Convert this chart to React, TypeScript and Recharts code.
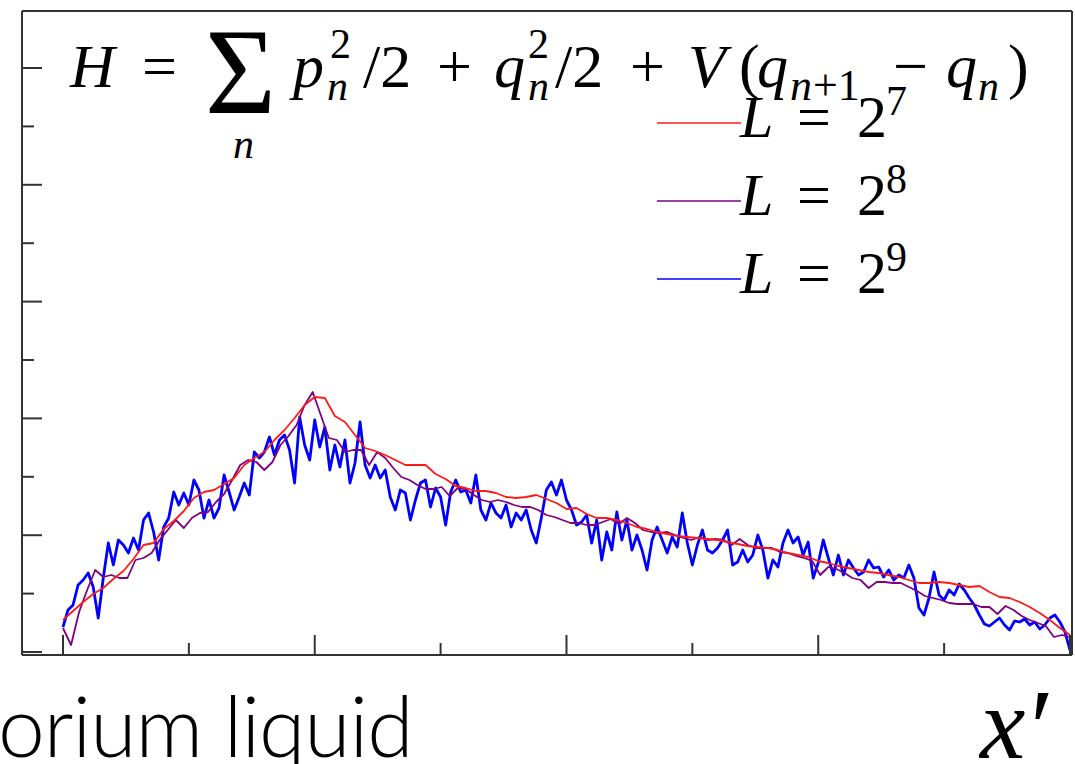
import { LineChart, Line, XAxis, YAxis, Legend } from "recharts";

// x' ticks (unlabelled) and y ticks (unlabelled, tick spacing of the original frame)
const X_TICKS = [0, 0.125, 0.25, 0.375, 0.5, 0.625, 0.75, 0.875, 1];
const Y_TICKS = [0, 58.4, 116.8, 175.2, 233.6, 292, 350.4, 408.8, 467.2, 525.6, 584];

// L = 2^7, evenly spaced in x' from 0 to 1
const L7 = [
  32, 41, 50, 58, 64, 73, 81, 93, 107, 109, 123, 131, 141, 154, 160, 162, 168, 174, 187, 194,
  200, 212, 222, 234, 247, 255, 254, 236, 230, 217, 204, 201, 197, 192, 187, 187, 187, 178, 173, 166,
  164, 161, 161, 159, 155, 154, 155, 157, 153, 149, 143, 144, 138, 134, 134, 132, 129, 125, 123, 120,
  118, 116, 115, 114, 113, 112, 110, 108, 106, 105, 104, 102, 99, 97, 95, 91, 89, 86, 84, 82,
  80, 79, 77, 75, 72, 69, 69, 70, 69, 67, 65, 66, 60, 55, 54, 50, 45, 39, 32, 24,
  17,
];

// L = 2^8
const L8 = [
  24, 7, 40, 62, 82, 75, 77, 74, 74, 92, 94, 99, 112, 122, 132, 124, 134, 139, 140, 150,
  158, 172, 187, 192, 190, 182, 190, 207, 216, 227, 247, 260, 237, 214, 212, 200, 202, 202, 187, 200,
  194, 184, 175, 172, 167, 163, 163, 165, 156, 164, 163, 157, 152, 150, 152, 150, 147, 145, 145, 142,
  137, 135, 132, 129, 129, 127, 127, 130, 133, 128, 134, 129, 122, 120, 119, 120, 117, 114, 112, 115,
  112, 113, 112, 107, 113, 107, 104, 104, 104, 100, 99, 96, 94, 91, 77, 85, 83, 79, 74, 72,
  64, 70, 70, 69, 69, 65, 61, 56, 54, 52, 49, 48, 48, 48, 45, 45, 38, 46, 42, 36,
  32, 29, 26, 15, 17, 15,
];

// L = 2^9
const L9 = [
  25, 42, 47, 67, 72, 79, 65, 34, 74, 109, 87, 112, 107, 99, 114, 102, 132, 139, 120, 92,
  125, 134, 160, 147, 159, 147, 172, 162, 134, 152, 134, 144, 177, 160, 142, 155, 169, 157, 200, 194,
  200, 215, 197, 212, 217, 202, 169, 235, 207, 192, 232, 205, 225, 182, 207, 185, 212, 169, 189, 230,
  187, 174, 187, 174, 182, 155, 142, 162, 159, 132, 152, 169, 172, 145, 164, 155, 127, 160, 172, 160,
  162, 149, 177, 142, 132, 149, 139, 134, 147, 125, 139, 132, 142, 122, 109, 134, 162, 170, 157, 172,
  152, 142, 127, 130, 137, 109, 132, 92, 120, 102, 140, 112, 132, 102, 117, 102, 82, 112, 125, 112,
  99, 115, 105, 139, 109, 87, 107, 122, 102, 99, 104, 112, 122, 87, 90, 102, 90, 97, 117, 102,
  74, 92, 85, 109, 122, 109, 115, 97, 110, 74, 89, 112, 94, 77, 97, 77, 92, 84, 77, 80,
  92, 84, 85, 75, 82, 72, 77, 74, 87, 74, 44, 37, 54, 80, 57, 52, 62, 57, 68, 62,
  54, 47, 37, 28, 26, 30, 34, 27, 22, 31, 30, 33, 27, 30, 23, 27, 34, 37, 30, 20,
  2,
];

const SERIES = [
  { key: "L7", exp: "7", values: L7, color: "#ff1a1a", width: 1.8 },
  { key: "L8", exp: "8", values: L8, color: "#800080", width: 1.8 },
  { key: "L9", exp: "9", values: L9, color: "#0000ff", width: 2.8 },
];

const toPoints = (values: number[]) =>
  values.map((y, i) => ({ x: i / (values.length - 1), y }));

const AXIS = "#333";
const MATH = "Liberation Serif";
const xLen = (v: number) => (X_TICKS.indexOf(v) % 2 === 0 ? 20 : 12);
const yLen = (v: number) => (Y_TICKS.indexOf(v) % 2 === 0 ? 20 : 12);

function BottomTick(props: any) {
  const { x, y, payload } = props;
  return <line x1={x} x2={x} y1={y} y2={y - xLen(payload.value)} stroke={AXIS} strokeWidth={2} />;
}
function TopTick(props: any) {
  const { x, y, payload } = props;
  return <line x1={x} x2={x} y1={y} y2={y + xLen(payload.value)} stroke={AXIS} strokeWidth={2} />;
}
function LeftTick(props: any) {
  const { x, y, payload } = props;
  return <line x1={x} x2={x + yLen(payload.value)} y1={y} y2={y} stroke={AXIS} strokeWidth={2} />;
}
function RightTick(props: any) {
  const { x, y, payload } = props;
  return <line x1={x} x2={x - yLen(payload.value)} y1={y} y2={y} stroke={AXIS} strokeWidth={2} />;
}

function LegendBox() {
  return (
    <svg width={1075} height={320} style={{ display: "block" }}>
      {SERIES.map((s, i) => {
        const ly = 123 + i * 78;
        const by = 137 + i * 78;
        return (
          <g key={s.key}>
            <line x1={657} x2={741} y1={ly} y2={ly} stroke={s.color} strokeWidth={1.6} />
            <text x={740} y={by} fontSize={60} fontFamily={MATH} fontStyle="italic">L</text>
            <text x={797} y={by} fontSize={60} fontFamily={MATH}>=</text>
            <text x={857} y={by} fontSize={60} fontFamily={MATH}>2</text>
            <text x={886} y={by - 22} fontSize={42} fontFamily={MATH}>{s.exp}</text>
          </g>
        );
      })}
    </svg>
  );
}

function Overlay() {
  return (
    <svg
      width={1075}
      height={764}
      style={{ position: "absolute", left: 0, top: 0 }}
    >
      <text x={70} y={87} fontSize={62} fontFamily={MATH} fontStyle="italic">H</text>
      <text x={142} y={87} fontSize={62} fontFamily={MATH}>=</text>
      <text x={205} y={113} fontSize={122} fontFamily={MATH}>Σ</text>
      <text x={233} y={158} fontSize={42} fontFamily={MATH} fontStyle="italic">n</text>
      <text x={293} y={87} fontSize={62} fontFamily={MATH} fontStyle="italic">p</text>
      <text x={330} y={58} fontSize={42} fontFamily={MATH}>2</text>
      <text x={327} y={100} fontSize={42} fontFamily={MATH} fontStyle="italic">n</text>
      <text x={363} y={87} fontSize={62} fontFamily={MATH}>/2</text>
      <text x={437} y={87} fontSize={62} fontFamily={MATH}>+</text>
      <text x={494} y={87} fontSize={62} fontFamily={MATH} fontStyle="italic">q</text>
      <text x={528} y={58} fontSize={42} fontFamily={MATH}>2</text>
      <text x={528} y={100} fontSize={42} fontFamily={MATH} fontStyle="italic">n</text>
      <text x={555} y={87} fontSize={62} fontFamily={MATH}>/2</text>
      <text x={630} y={87} fontSize={62} fontFamily={MATH}>+</text>
      <text x={688} y={87} fontSize={62} fontFamily={MATH} fontStyle="italic">V</text>
      <text x={739} y={87} fontSize={62} fontFamily={MATH}>(</text>
      <text x={757} y={87} fontSize={62} fontFamily={MATH} fontStyle="italic">q</text>
      <text x={790} y={100} fontSize={44} fontFamily={MATH} fontStyle="italic">n</text>
      <text x={813} y={100} fontSize={44} fontFamily={MATH}>+1</text>
      <text x={893} y={87} fontSize={62} fontFamily={MATH}>−</text>
      <text x={946} y={87} fontSize={62} fontFamily={MATH} fontStyle="italic">q</text>
      <text x={978} y={100} fontSize={42} fontFamily={MATH} fontStyle="italic">n</text>
      <text x={1008} y={87} fontSize={62} fontFamily={MATH}>)</text>

      <text x={980} y={758} fontSize={102} fontFamily={MATH} fontStyle="italic">x</text>
      <text x={1030} y={765} fontSize={110} fontFamily={MATH}>′</text>
    </svg>
  );
}

export default function App() {
  return (
    <div
      style={{
        position: "absolute",
        left: 0,
        top: 0,
        width: 1075,
        height: 764,
        background: "#fff",
        overflow: "hidden",
      }}
    >
      <LineChart
        width={1075}
        height={764}
        margin={{ top: 10, right: 2, bottom: 108, left: 21 }}
      >
        <XAxis
          xAxisId="b"
          dataKey="x"
          type="number"
          orientation="bottom"
          domain={[-0.0407, 1.002]}
          ticks={X_TICKS}
          interval={0}
          height={1}
          tickSize={0}
          tickMargin={0}
          axisLine={{ stroke: AXIS, strokeWidth: 2 }}
          tickLine={false}
          tick={BottomTick}
        />
        <XAxis
          xAxisId="t"
          dataKey="x"
          type="number"
          orientation="top"
          domain={[-0.0407, 1.002]}
          ticks={X_TICKS}
          interval={0}
          height={1}
          tickSize={0}
          tickMargin={0}
          axisLine={{ stroke: AXIS, strokeWidth: 2 }}
          tickLine={false}
          tick={TopTick}
        />
        <YAxis
          yAxisId="l"
          type="number"
          orientation="left"
          domain={[-3, 641]}
          ticks={Y_TICKS}
          interval={0}
          width={1}
          tickSize={0}
          tickMargin={0}
          axisLine={{ stroke: AXIS, strokeWidth: 2 }}
          tickLine={false}
          tick={LeftTick}
        />
        <YAxis
          yAxisId="r"
          type="number"
          orientation="right"
          domain={[-3, 641]}
          ticks={Y_TICKS}
          interval={0}
          width={1}
          tickSize={0}
          tickMargin={0}
          axisLine={{ stroke: AXIS, strokeWidth: 2 }}
          tickLine={false}
          tick={RightTick}
        />
        <Legend
          layout="horizontal"
          verticalAlign="middle"
          align="center"
          wrapperStyle={{ left: 0, top: 0, width: 1075, height: 320 }}
          content={<LegendBox />}
        />
        {[...SERIES].reverse().map((s) => (
          <Line
            key={s.key}
            xAxisId="b"
            yAxisId="l"
            data={toPoints(s.values)}
            dataKey="y"
            name={s.key}
            type="linear"
            stroke={s.color}
            strokeWidth={s.width}
            strokeLinejoin="round"
            dot={false}
            activeDot={false}
            isAnimationActive={false}
          />
        ))}
      </LineChart>
      <Overlay />
      <div
        style={{
          position: "absolute",
          left: -2,
          top: 670,
          fontFamily: "Lato",
          fontWeight: 300,
          fontSize: 84,
          lineHeight: "110px",
          whiteSpace: "nowrap",
          color: "#000",
          letterSpacing: -1,
        }}
      >
        orium liquid
      </div>
    </div>
  );
}
